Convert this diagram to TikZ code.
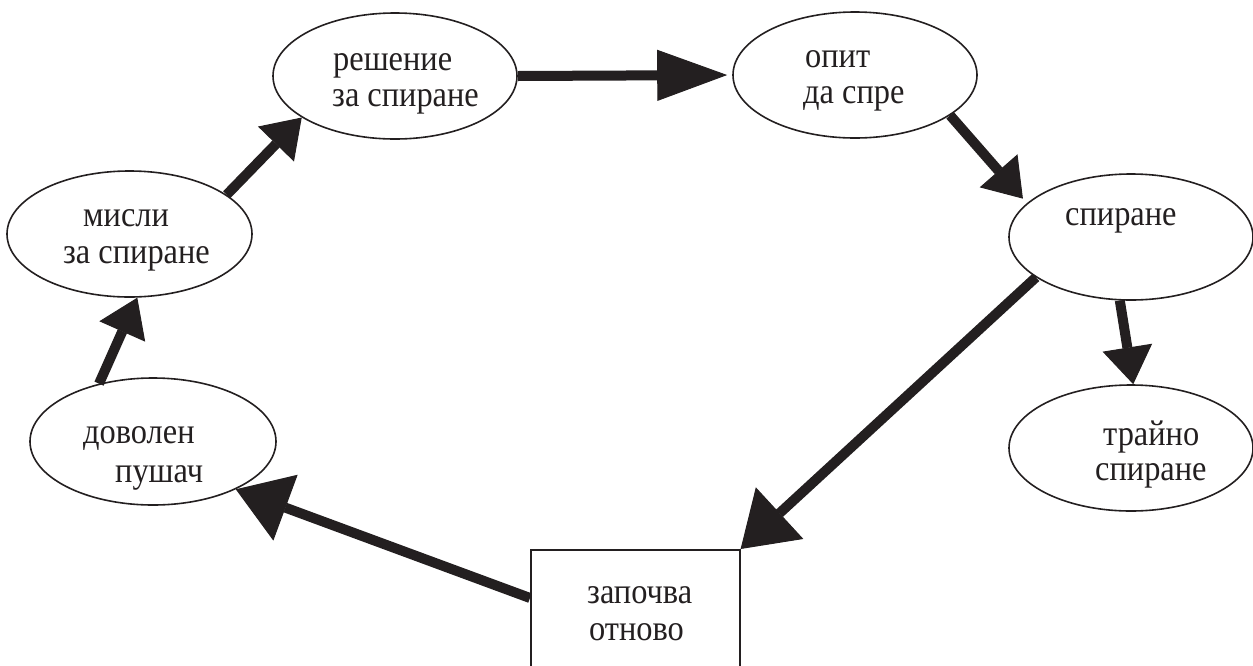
\documentclass[tikz,border=0pt]{standalone}
\usepackage{fontspec}
\setmainfont{Liberation Serif}[FakeStretch=0.9]
\usetikzlibrary{shapes.geometric,arrows.meta,calc}
\definecolor{ink}{HTML}{231F20}
\tikzset{
  oval/.style={ellipse, draw=ink, line width=1.6pt, inner sep=0pt, minimum width=244pt, minimum height=126pt},
  boxnode/.style={rectangle, draw=ink, line width=1.6pt, inner sep=0pt, minimum width=209pt, minimum height=150pt, anchor=north west},
  lbl/.style={anchor=base west, inner sep=0pt, text=ink, font=\fontsize{36}{37}\selectfont},
  conn/.style={draw=ink, line width=10pt},
  smallhead/.style={-{Triangle[length=37pt,width=50pt,line width=1pt,color=ink]}},
  bighead/.style={-{Triangle[length=53pt,width=70pt,line width=1pt,color=ink]}},
  longhead/.style={-{Triangle[length=70pt,width=51pt,line width=1pt,color=ink]}}
}
\begin{document}
\begin{tikzpicture}[x=1pt,y=-1pt]
\useasboundingbox (0,0) rectangle (1253,665);
\begin{scope}
\clip (0,0) rectangle (1253,665);
\node[oval] (e1) at (395,76) {};
\node[oval] (e2) at (855,75) {};
\node[oval, minimum width=245pt] (e3) at (129.5,234) {};
\node[oval] (e4) at (1131,237) {};
\node[oval, minimum width=246pt, minimum height=127pt] (e5) at (153,441.5) {};
\node[oval] (e6) at (1131,448) {};
\node[boxnode] (r) at (530,549) {};

\node[lbl] (t1a) at (333,70) {решение};
\node[lbl] (t1b) at (332,106) {за спиране};
\node[lbl] (t2a) at (805,67) {опит};
\node[lbl] (t2b) at (803,103) {да спре};
\node[lbl] (t3a) at (83,226) {мисли};
\node[lbl] (t3b) at (63,263) {за спиране};
\node[lbl] (t4a) at (1065,225) {спиране};
\node[lbl] (t5a) at (83,443) {доволен};
\node[lbl] (t5b) at (115,482) {пушач};
\node[lbl] (t6a) at (1103,445) {трайно};
\node[lbl] (t6b) at (1095,480) {спиране};
\node[lbl] (t7a) at (587,603) {започва};
\node[lbl] (t7b) at (589,640) {отново};

\draw[conn, longhead, shorten >=5pt] (e1.east) -- (e2.west);
\draw[conn, smallhead, shorten >=6pt] (e2.-23.5) -- (e4.162.85);
\draw[conn, smallhead] (e4.-100) -- (e6.88);
\draw[conn, bighead] (e4.203.1) -- (r.north east);
\draw[conn, bighead] ($(r.north west)+(0,49)$) -- (e5.-30.3);
\draw[conn, smallhead] (e5.133.2) -- (e3.-83.2);
\draw[conn, smallhead] (e3.22.6) -- (e1.-156.7);
\end{scope}
\end{tikzpicture}
\end{document}
